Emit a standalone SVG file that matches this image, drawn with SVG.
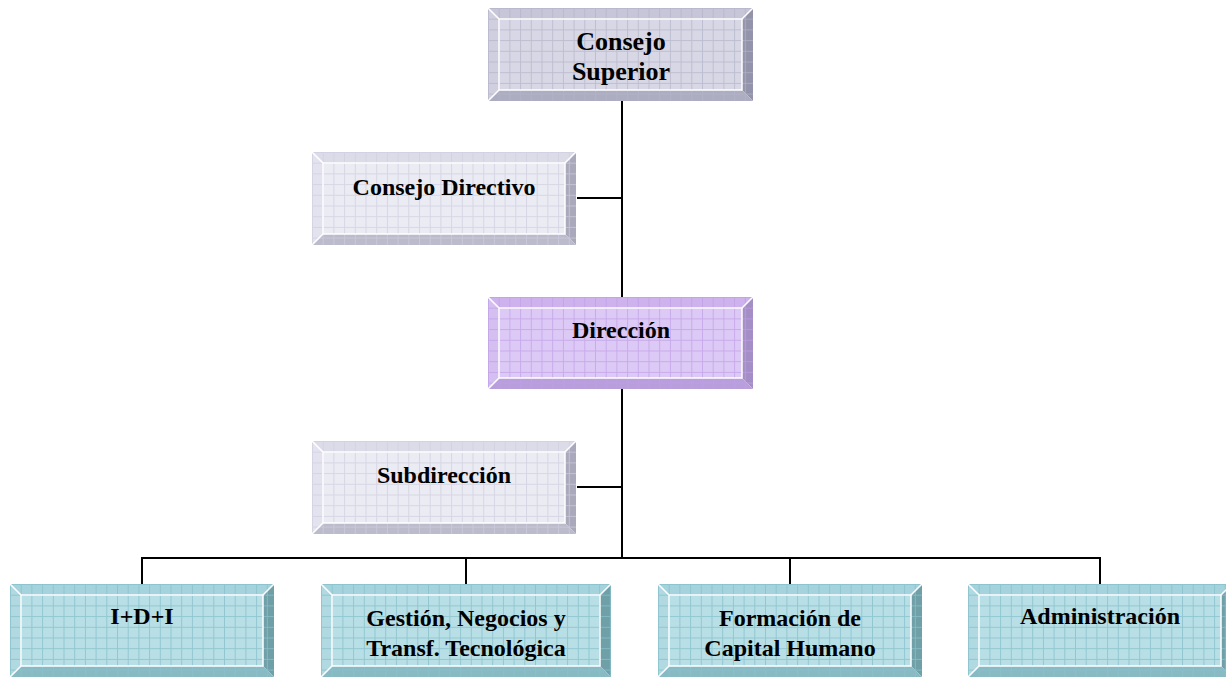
<svg xmlns="http://www.w3.org/2000/svg" width="1226" height="677" viewBox="0 0 1226 677">
<style>
.t{font-family:"Liberation Serif","Times New Roman",serif;font-weight:bold;font-size:24px;text-anchor:middle;fill:#000}
.big{font-size:26px}
.hl{fill:none;stroke:#fff;stroke-width:1.5}
.conn{fill:none;stroke:#000;stroke-width:2}
.grey .f{fill:#D7D7E5}.grey .tp{fill:#C6C6D8}.grey .lf{fill:#CFCFDF}.grey .rt{fill:#9393AB}.grey .bt{fill:#ADADC2}
.light .f{fill:#EBEBF4}.light .tp{fill:#DCDCE9}.light .lf{fill:#E3E3EF}.light .rt{fill:#A9A9BB}.light .bt{fill:#BBBBCB}
.purple .f{fill:#DDC9F5}.purple .tp{fill:#CDB2EE}.purple .lf{fill:#D5BFF1}.purple .rt{fill:#A58EC5}.purple .bt{fill:#B99EDC}
.cyan .f{fill:#B8DFE6}.cyan .tp{fill:#A5D3DD}.cyan .lf{fill:#B0D9E1}.cyan .rt{fill:#6F9FA7}.cyan .bt{fill:#88BAC4}
</style>
<defs>
<pattern id="gGrey" patternUnits="userSpaceOnUse" width="10.7" height="10.7"><path d="M0 0.5H10.7M0.5 0V10.7" stroke="#B4B4CA" stroke-width="1" fill="none" opacity="0.7"/></pattern>
<pattern id="gLight" patternUnits="userSpaceOnUse" width="10.7" height="10.7"><path d="M0 0.5H10.7M0.5 0V10.7" stroke="#CDCDDF" stroke-width="1" fill="none" opacity="0.7"/></pattern>
<pattern id="gPurple" patternUnits="userSpaceOnUse" width="10.7" height="10.7"><path d="M0 0.5H10.7M0.5 0V10.7" stroke="#BE9EE6" stroke-width="1" fill="none" opacity="0.7"/></pattern>
<pattern id="gCyan" patternUnits="userSpaceOnUse" width="10.7" height="10.7"><path d="M0 0.5H10.7M0.5 0V10.7" stroke="#88C0CC" stroke-width="1" fill="none" opacity="0.8"/></pattern>
</defs>

<g id="connectors">
<path class="conn" d="M622 101V297M577 198H622M622 389V558M577 487H622M142 558H1100M142 557V584M466 557V584M790 557V584M1100 557V584"/>
</g>

<g id="consejo-superior" class="grey" transform="translate(488,8)">
<rect class="f" x="11" y="11" width="243" height="71"/>
<polygon class="tp" points="0,0 265,0 254,11 11,11"/>
<polygon class="lf" points="0,0 11,11 11,82 0,93"/>
<polygon class="rt" points="265,0 265,93 254,82 254,11"/>
<polygon class="bt" points="0,93 11,82 254,82 265,93"/>
<rect x="0" y="0" width="265" height="93" fill="url(#gGrey)"/>
<rect class="hl" x="11" y="11" width="243" height="71"/>
<path class="hl" d="M0 0L11 11M265 0L254 11M0 93L11 82"/>
<text class="t big" x="133" y="42">Consejo</text>
<text class="t big" x="133" y="72">Superior</text>
</g>

<g id="consejo-directivo" class="light" transform="translate(312,152)">
<rect class="f" x="11" y="11" width="242" height="71"/>
<polygon class="tp" points="0,0 264,0 253,11 11,11"/>
<polygon class="lf" points="0,0 11,11 11,82 0,93"/>
<polygon class="rt" points="264,0 264,93 253,82 253,11"/>
<polygon class="bt" points="0,93 11,82 253,82 264,93"/>
<rect x="0" y="0" width="264" height="93" fill="url(#gLight)"/>
<rect class="hl" x="11" y="11" width="242" height="71"/>
<path class="hl" d="M0 0L11 11M264 0L253 11M0 93L11 82"/>
<text class="t" x="132" y="43">Consejo Directivo</text>
</g>

<g id="direccion" class="purple" transform="translate(488,297)">
<rect class="f" x="11" y="11" width="243" height="70"/>
<polygon class="tp" points="0,0 265,0 254,11 11,11"/>
<polygon class="lf" points="0,0 11,11 11,81 0,92"/>
<polygon class="rt" points="265,0 265,92 254,81 254,11"/>
<polygon class="bt" points="0,92 11,81 254,81 265,92"/>
<rect x="0" y="0" width="265" height="92" fill="url(#gPurple)"/>
<rect class="hl" x="11" y="11" width="243" height="70"/>
<path class="hl" d="M0 0L11 11M265 0L254 11M0 92L11 81"/>
<text class="t" x="133" y="41">Dirección</text>
</g>

<g id="subdireccion" class="light" transform="translate(312,441)">
<rect class="f" x="11" y="11" width="242" height="71"/>
<polygon class="tp" points="0,0 264,0 253,11 11,11"/>
<polygon class="lf" points="0,0 11,11 11,82 0,93"/>
<polygon class="rt" points="264,0 264,93 253,82 253,11"/>
<polygon class="bt" points="0,93 11,82 253,82 264,93"/>
<rect x="0" y="0" width="264" height="93" fill="url(#gLight)"/>
<rect class="hl" x="11" y="11" width="242" height="71"/>
<path class="hl" d="M0 0L11 11M264 0L253 11M0 93L11 82"/>
<text class="t" x="132" y="42">Subdirección</text>
</g>

<g id="idi" class="cyan" transform="translate(10,584)">
<rect class="f" x="11" y="11" width="242" height="71"/>
<polygon class="tp" points="0,0 264,0 253,11 11,11"/>
<polygon class="lf" points="0,0 11,11 11,82 0,93"/>
<polygon class="rt" points="264,0 264,93 253,82 253,11"/>
<polygon class="bt" points="0,93 11,82 253,82 264,93"/>
<rect x="0" y="0" width="264" height="93" fill="url(#gCyan)"/>
<rect class="hl" x="11" y="11" width="242" height="71"/>
<path class="hl" d="M0 0L11 11M264 0L253 11M0 93L11 82"/>
<text class="t" x="132" y="40">I+D+I</text>
</g>

<g id="gestion" class="cyan" transform="translate(321,584)">
<rect class="f" x="11" y="11" width="268" height="71"/>
<polygon class="tp" points="0,0 290,0 279,11 11,11"/>
<polygon class="lf" points="0,0 11,11 11,82 0,93"/>
<polygon class="rt" points="290,0 290,93 279,82 279,11"/>
<polygon class="bt" points="0,93 11,82 279,82 290,93"/>
<rect x="0" y="0" width="290" height="93" fill="url(#gCyan)"/>
<rect class="hl" x="11" y="11" width="268" height="71"/>
<path class="hl" d="M0 0L11 11M290 0L279 11M0 93L11 82"/>
<text class="t" x="145" y="42">Gestión, Negocios y</text>
<text class="t" x="145" y="72">Transf. Tecnológica</text>
</g>

<g id="formacion" class="cyan" transform="translate(658,584)">
<rect class="f" x="11" y="11" width="242" height="71"/>
<polygon class="tp" points="0,0 264,0 253,11 11,11"/>
<polygon class="lf" points="0,0 11,11 11,82 0,93"/>
<polygon class="rt" points="264,0 264,93 253,82 253,11"/>
<polygon class="bt" points="0,93 11,82 253,82 264,93"/>
<rect x="0" y="0" width="264" height="93" fill="url(#gCyan)"/>
<rect class="hl" x="11" y="11" width="242" height="71"/>
<path class="hl" d="M0 0L11 11M264 0L253 11M0 93L11 82"/>
<text class="t" x="132" y="42">Formación de</text>
<text class="t" x="132" y="72">Capital Humano</text>
</g>

<g id="administracion" class="cyan" transform="translate(968,584)">
<rect class="f" x="11" y="11" width="242" height="71"/>
<polygon class="tp" points="0,0 264,0 253,11 11,11"/>
<polygon class="lf" points="0,0 11,11 11,82 0,93"/>
<polygon class="rt" points="264,0 264,93 253,82 253,11"/>
<polygon class="bt" points="0,93 11,82 253,82 264,93"/>
<rect x="0" y="0" width="264" height="93" fill="url(#gCyan)"/>
<rect class="hl" x="11" y="11" width="242" height="71"/>
<path class="hl" d="M0 0L11 11M264 0L253 11M0 93L11 82"/>
<text class="t" x="132" y="40">Administración</text>
</g>
</svg>
